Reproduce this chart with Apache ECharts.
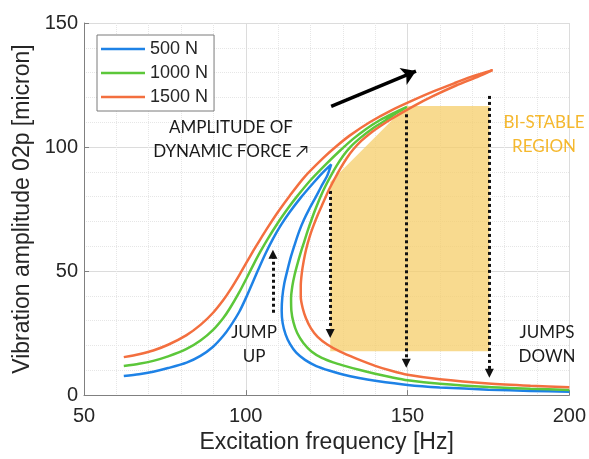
<!DOCTYPE html>
<html>
<head>
<meta charset="utf-8">
<script src="https://cdn.jsdelivr.net/npm/echarts@6/dist/echarts.min.js"></script>
<style>
  html, body { margin: 0; padding: 0; background: #fff; }
  #chart { width: 589px; height: 459px; }
</style>
</head>
<body>
<div id="chart"></div>
<script>
// Frequency response paths (outer branch -> tip -> inner branch -> tail)
const blueF = [62.3, 67, 71.4, 76, 81.7, 86, 89.9, 93, 95.1, 98, 100.2, 102, 103.8, 106, 108.4, 111, 113.6, 117, 120.8, 123.5, 126.4,
  125.2, 123.3, 121.5, 119.6, 117.9, 116.5, 115.2, 114, 112.9, 111.9, 111.3, 111.1, 111.4, 112.3, 113.7, 115.6, 118.3, 121.8, 126, 130, 135, 140, 150, 160, 175, 188, 200]
const blueA = [7.7, 8.4, 9.4, 10.9, 13.1, 15.8, 19.5, 23.8, 27.5, 33.6, 39.6, 45, 50.4, 56.8, 63, 68.8, 73.8, 79.6, 85.4, 89.3, 93,
  88.5, 84, 79.5, 75, 70.5, 66, 61, 56, 50.5, 45, 39.5, 34, 29, 24.5, 20.5, 17.1, 14.2, 11.7, 9.8, 8.3, 6.9, 5.8, 4.1, 3.1, 2.2, 1.7, 1.4]

const greenF = [62.3, 67, 71.4, 76, 81.7, 86, 89.9, 93, 95.1, 98, 100.2, 102.5, 104.5, 106.8, 110, 113, 115.6, 120, 124.9, 129, 133.1, 137, 141.4, 145.5, 149.8,
  147, 143, 139, 135.5, 132.3, 130, 128, 126.2, 124.6, 123.1, 121.7, 120.4, 119.2, 118.1, 117, 116, 115.1, 114.4, 114, 114.1, 114.7, 115.9, 117.8, 120.3, 123.5, 127, 130, 135, 140, 145, 150, 160, 175, 188, 200]
const greenA = [11.7, 12.6, 13.8, 15.6, 18.6, 22, 26.3, 31, 35, 41.5, 47, 52.9, 57.8, 63, 69.6, 75.2, 79.7, 86.6, 93.2, 98.4, 103.2, 107.1, 110.8, 113.6, 116.2,
  114, 110.6, 107.3, 103.8, 100, 96.3, 92.3, 88.2, 84.2, 80, 75.5, 71, 66.5, 62, 57.5, 53, 48.5, 44, 39, 34, 29.5, 25, 21, 17.6, 15, 13.2, 12, 10.2, 8.6, 7.2, 6, 4.6, 3.3, 2.6, 2.1]

const orangeF = [62.3, 67, 71.4, 76, 81.7, 86, 89.9, 93, 95.1, 98, 100.2, 102.3, 104.3, 107, 110, 113.6, 118, 123.9, 128, 132.1, 138.3, 145, 151.6, 158, 165, 170.2, 176.3,
  172, 165, 158, 151.6, 145, 141.4, 138.6, 135.6, 133.2, 131.2, 129.3, 127.4, 125.6, 123.9, 122.3, 120.9, 119.7, 118.7, 117.9, 117.3, 117, 117, 117.6, 118.6, 120.1, 122.2, 125.2, 129, 134, 140, 145, 150, 160, 175, 188, 200]
const orangeA = [15.3, 16.5, 18, 20.3, 24.2, 28.3, 33.2, 38.2, 42.2, 48.4, 53.4, 58.1, 62.4, 68, 73.9, 80.4, 87.7, 95.5, 100.3, 104.6, 110, 114.8, 118.8, 122.4, 126, 128.6, 131,
  128.5, 124.8, 120.6, 116.3, 111.3, 108.3, 105.7, 102.4, 99, 95.5, 91.5, 87, 82.5, 77.5, 72.8, 68.2, 63.7, 59, 54, 49, 44, 39.5, 35, 31, 27, 23.5, 20.4, 17.6, 14.8, 11.8, 9.8, 8.2, 6.4, 4.7, 3.8, 3.2]

const seriesNames = ['500 N', '1000 N', '1500 N']

// Bi-stable region outline
const regionF = [126.1, 126.1, 149.6, 175.3, 175.3]
const regionA = [17.7, 85.9, 116.5, 116.5, 17.7]

// Jump arrows (dotted)
const jumpUp = [[108.4, 33.2], [108.4, 56.8]]
const jumpsDown = [
  [[126.1, 82.3], [126.1, 24.8]],
  [[149.6, 113.2], [149.6, 12.8]],
  [[175.3, 120.6], [175.3, 8.8]]
]
// Direction of increasing force
const forceArrow = [[126.4, 116.4], [152.6, 130.6]]

const zip = (f, a) => f.map((v, i) => [v, a[i]])

const axisFont = 'Liberation Sans, Arial, sans-serif'
const noteFont = 'Lato, Open Sans, sans-serif'
const textDark = '#262626'
const colors = ['#1E82E6', '#5CC73A', '#F36F3F']

const chart = echarts.init(document.getElementById('chart'))

const curve = (name, data, color) => ({
  name,
  type: 'line',
  data,
  smooth: 0.25,
  symbol: 'none',
  showSymbol: false,
  color,
  lineStyle: { color, width: 2.5 },
  z: 4,
  silent: true
})

const note = (text, x, y, fill, size) => ({
  type: 'text', x, y, z: 10, silent: true,
  style: {
    text, fontFamily: noteFont, fontSize: size, lineHeight: 24, fill,
    align: 'center', verticalAlign: 'middle', textAlign: 'center', textVerticalAlign: 'middle'
  }
})

chart.setOption({
  animation: false,
  backgroundColor: '#fff',
  grid: { left: 84, right: 18, top: 23, bottom: 63 },
  legend: {
    data: seriesNames,
    orient: 'vertical',
    left: 97,
    top: 35,
    icon: 'rect',
    itemWidth: 44,
    itemHeight: 2.5,
    itemGap: 6,
    padding: [5, 6, 5, 4],
    borderColor: '#7a7a7a',
    borderWidth: 1,
    backgroundColor: '#fff',
    textStyle: { fontFamily: axisFont, fontSize: 18, color: textDark }
  },
  xAxis: {
    type: 'value',
    min: 50,
    max: 200,
    interval: 50,
    name: 'Excitation frequency [Hz]',
    nameLocation: 'middle',
    nameGap: 33,
    nameTextStyle: { fontFamily: axisFont, fontSize: 23, color: textDark },
    axisLine: { onZero: false, lineStyle: { color: '#808080' } },
    axisTick: { inside: true, length: 5, lineStyle: { color: '#808080' } },
    minorTick: { show: false, splitNumber: 5 },
    splitLine: { show: true, lineStyle: { color: '#dcdcdc' } },
    minorSplitLine: { show: true, lineStyle: { color: '#e6e6e6', type: 'dotted' } },
    axisLabel: { fontFamily: axisFont, fontSize: 20, color: textDark, margin: 11 }
  },
  yAxis: {
    type: 'value',
    min: 0,
    max: 150,
    interval: 50,
    name: 'Vibration amplitude 02p [micron]',
    nameLocation: 'middle',
    nameGap: 43,
    nameTextStyle: { fontFamily: axisFont, fontSize: 23, color: textDark },
    axisLine: { show: true, onZero: false, lineStyle: { color: '#808080' } },
    axisTick: { show: true, inside: true, length: 5, lineStyle: { color: '#808080' } },
    minorTick: { show: false, splitNumber: 5 },
    splitLine: { show: true, lineStyle: { color: '#dcdcdc' } },
    minorSplitLine: { show: true, lineStyle: { color: '#e6e6e6', type: 'dotted' } },
    axisLabel: { fontFamily: axisFont, fontSize: 20, color: textDark, margin: 6 }
  },
  series: [
    {
      type: 'custom',
      silent: true,
      z: 1,
      data: [[0, 0]],
      renderItem: (params, api) => ({
        type: 'polygon',
        shape: { points: regionF.map((f, i) => api.coord([f, regionA[i]])) },
        style: { fill: 'rgba(246,205,105,0.75)' }
      })
    },
    {
      type: 'lines',
      coordinateSystem: 'cartesian2d',
      silent: true,
      z: 3,
      symbol: ['none', 'triangle'],
      symbolSize: 9,
      lineStyle: { color: '#111', width: 3, type: [3, 3], opacity: 1 },
      data: [{ coords: jumpUp }].concat(jumpsDown.map(c => ({ coords: c })))
    },
    {
      type: 'lines',
      coordinateSystem: 'cartesian2d',
      silent: true,
      z: 3,
      symbol: ['none', 'arrow'],
      symbolSize: 14,
      lineStyle: { color: '#000', width: 3.5, opacity: 1 },
      data: [{ coords: forceArrow }]
    },
    curve(seriesNames[0], zip(blueF, blueA), colors[0]),
    curve(seriesNames[1], zip(greenF, greenA), colors[1]),
    curve(seriesNames[2], zip(orangeF, orangeA), colors[2])
  ],
  graphic: [
    note('AMPLITUDE OF\nDYNAMIC FORCE ↗', 231, 140, '#1a1a1a', 17),
    note('BI-STABLE\nREGION', 544, 135, '#F5B82E', 17),
    note('JUMP\nUP', 254, 345, '#1a1a1a', 17),
    note('JUMPS\nDOWN', 547, 345, '#1a1a1a', 17)
  ]
})
</script>
</body>
</html>
